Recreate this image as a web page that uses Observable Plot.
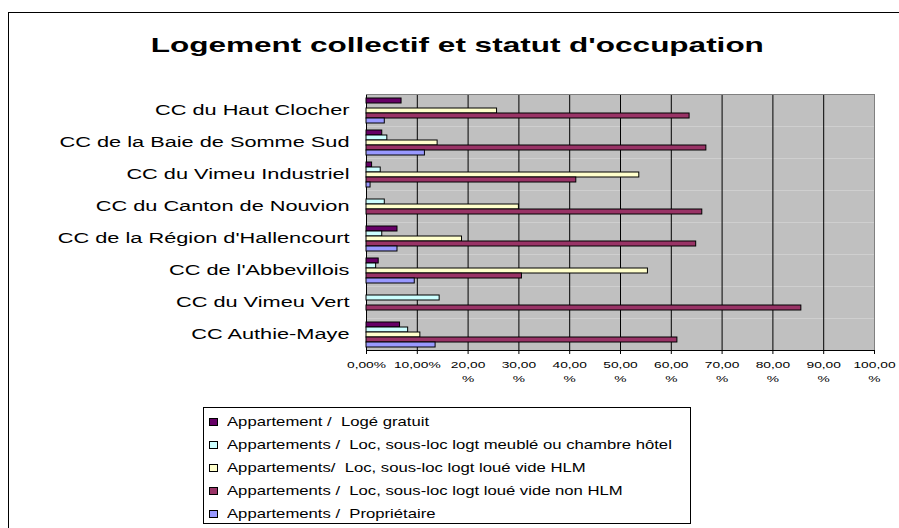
<!DOCTYPE html>
<html><head><meta charset="utf-8">
<script src="https://cdn.jsdelivr.net/npm/d3@7"></script>
<script src="https://cdn.jsdelivr.net/npm/@observablehq/plot@0.6"></script>
<style>
body{margin:0;background:#fff;}
#wrap{position:relative;width:899px;height:528px;overflow:hidden;font-family:"Liberation Sans",Arial,sans-serif;background:#fff}
#frame{position:absolute;left:8px;top:12px;width:898px;height:530px;border:1px solid #000;box-sizing:border-box}
#title{position:absolute;left:8px;width:898px;top:34px;text-align:center;line-height:21px;white-space:nowrap}
#title span{display:inline-block;font-weight:bold;font-size:21px;transform:scaleX(1.5)}
#chart{position:absolute;left:0;top:70px}
#legend{position:absolute;left:203px;top:407px;width:488px;height:117px;border:1px solid #000;box-sizing:border-box;background:#fff;padding-top:2px}
.item{height:23px;display:flex;align-items:center;padding-left:5px;white-space:pre}
.sw{width:7px;height:6px;border:1px solid #000;flex:none}
.lt{font-size:13.5px;transform:scaleX(1.235);transform-origin:left center;margin-left:9px}
</style>
</head><body>
<div id="wrap">
  <div id="frame"></div>
  <div id="title"><span>Logement collectif et statut d'occupation</span></div>
  <div id="chart"></div>
  <div id="legend"></div>
</div>
<script>
const categories = [
  "CC du Haut Clocher",
  "CC de la Baie de Somme Sud",
  "CC du Vimeu Industriel",
  "CC du Canton de Nouvion",
  "CC de la Région d'Hallencourt",
  "CC de l'Abbevillois",
  "CC du Vimeu Vert",
  "CC Authie-Maye"
];
const series = [
  "Appartement /  Logé gratuit",
  "Appartements /  Loc, sous-loc logt meublé ou chambre hôtel",
  "Appartements/  Loc, sous-loc logt loué vide HLM",
  "Appartements /  Loc, sous-loc logt loué vide non HLM",
  "Appartements /  Propriétaire"
];
const colors = ["#660066", "#CCFFFF", "#FFFFCC", "#993366", "#9999FF"];

// values (%) in category order
const logeGratuit  = [6.9, 3.1, 1.1, 0, 6.1, 2.4, 0, 6.6];
const meuble       = [0, 4.1, 2.8, 3.6, 3.1, 1.9, 14.4, 8.2];
const videHLM      = [25.7, 14.0, 53.7, 30.0, 18.8, 55.4, 0, 10.6];
const videNonHLM   = [63.6, 66.9, 41.3, 66.1, 64.9, 30.6, 85.6, 61.2];
const proprietaire = [3.6, 11.5, 0.8, 0, 6.1, 9.5, 0, 13.6];
const seriesValues = [logeGratuit, meuble, videHLM, videNonHLM, proprietaire];

const xTicks = [0, 10, 20, 30, 40, 50, 60, 70, 80, 90, 100];
const xTickLabels = ["0,00%", "10,00%", "20,00\n%", "30,00\n%", "40,00\n%", "50,00\n%",
  "60,00\n%", "70,00\n%", "80,00\n%", "90,00\n%", "100,00\n%"];
const gridTicks = [10, 20, 30, 40, 50, 60, 70, 80, 90];

const rows = [];
categories.forEach((c, i) => series.forEach((s, j) =>
  rows.push({category: c, series: s, value: seriesValues[j][i]})));

const chart = Plot.plot({
  width: 899, height: 320,
  marginTop: 21, marginBottom: 37, marginLeft: 366, marginRight: 25,
  style: {fontFamily: '"Liberation Sans", Arial, sans-serif', background: "transparent", overflow: "visible", color: "#000"},
  x: {domain: [0, 100]},
  y: {domain: series, axis: null, paddingInner: 0, paddingOuter: 0.65},
  fy: {domain: categories, padding: 0},
  color: {domain: series, range: colors},
  marks: [
    Plot.frame({fill: "#c0c0c0", stroke: null}),
    Plot.gridX({ticks: gridTicks, stroke: "#000", strokeOpacity: 1}),
    Plot.ruleX([0], {stroke: "#000"}),
    Plot.ruleX([100], {stroke: "#808080"}),
    Plot.frame({anchor: "top", facetAnchor: "top", stroke: "#808080"}),
    Plot.frame({anchor: "bottom", facetAnchor: "bottom", stroke: "#000"}),
    Plot.barX(rows.filter(d => d.value > 0), {x: "value", y: "series", fy: "category", fill: "series", stroke: "#000", strokeWidth: 1}),
    Plot.axisX({ticks: xTicks, tickFormat: d => xTickLabels[xTicks.indexOf(d)], tickSize: 4, tickPadding: 4, fontSize: 9.5, lineHeight: 1.45, label: null}),
    Plot.axisFy({anchor: "left", label: null, tickSize: 0, tickPadding: 17, fontSize: 14.5})
  ]
});

function stretch(sel, k) {
  chart.querySelectorAll(sel).forEach(t => {
    const tr = t.getAttribute("transform") || "";
    t.setAttribute("transform", tr + ` scale(${k},1)`);
  });
}
stretch('g[aria-label="fy-axis tick label"] text', 1.5);
stretch('g[aria-label="x-axis tick label"] text', 1.45);
document.getElementById("chart").appendChild(chart);

const legend = document.getElementById("legend");
series.forEach((s, j) => {
  const it = document.createElement("div");
  it.className = "item";
  const sw = document.createElement("span");
  sw.className = "sw";
  sw.style.background = colors[j];
  const lt = document.createElement("span");
  lt.className = "lt";
  lt.textContent = s;
  it.appendChild(sw); it.appendChild(lt);
  legend.appendChild(it);
});
</script>
</body></html>
